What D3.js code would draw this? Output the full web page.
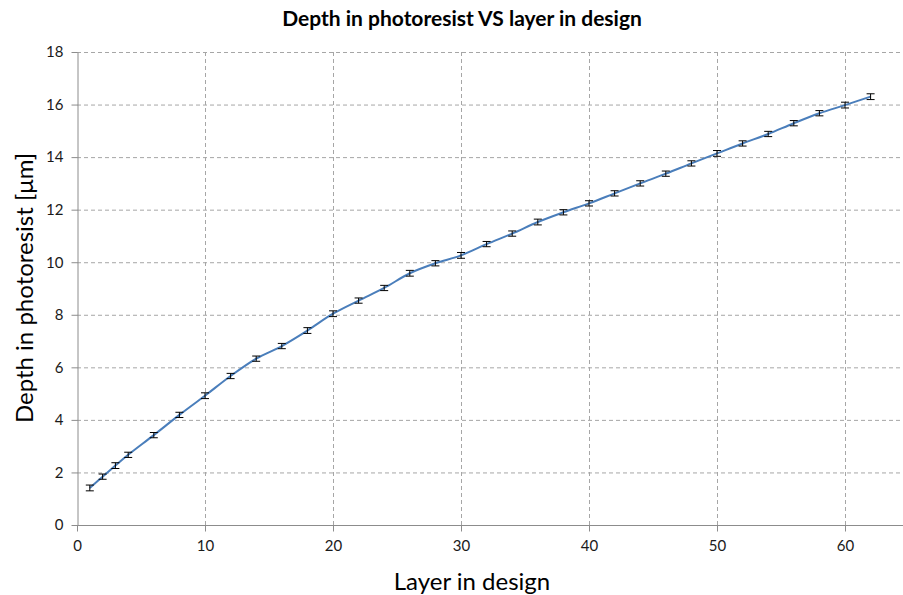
<!DOCTYPE html>
<html><head><meta charset="utf-8">
<script src="https://cdn.jsdelivr.net/npm/d3@7"></script>
<style>body{margin:0;background:#fff}svg{display:block}</style>
</head><body>
<svg id="c" width="903" height="595"></svg>
<script>
const layers = [1,2,3,4,6,8,10,12,14,16,18,20,22,24,26,28,30,32,34,36,38,40,42,44,46,48,50,52,54,56,58,60,62];
const depths = [1.41,1.84,2.26,2.67,3.42,4.19,4.92,5.67,6.33,6.81,7.40,8.04,8.54,9.02,9.58,9.96,10.26,10.69,11.09,11.53,11.90,12.24,12.62,13.00,13.37,13.76,14.14,14.52,14.88,15.29,15.67,15.98,16.30];
const errors = [0.11,0.10,0.11,0.10,0.10,0.10,0.11,0.10,0.10,0.10,0.11,0.11,0.10,0.10,0.11,0.10,0.11,0.10,0.10,0.11,0.10,0.10,0.10,0.10,0.10,0.10,0.11,0.10,0.10,0.10,0.10,0.11,0.11];
const xTicks = [0,10,20,30,40,50,60];
const yTicks = [0,2,4,6,8,10,12,14,16,18];
const title = "Depth in photoresist VS layer in design";
const xTitle = "Layer in design";
const yTitle = "Depth in photoresist [μm]";

const svg = d3.select("#c");
const L = 77, T = 52, B = 525, R = 903;
const x = d3.scaleLinear().domain([0, 60]).range([L, 845]);
const y = d3.scaleLinear().domain([0, 18]).range([B, T]);
const font = "Lato, 'Open Sans', sans-serif";

// grid
svg.append("g").selectAll("line.h").data(yTicks.filter(d => d > 0)).join("line")
  .attr("x1", L).attr("x2", R).attr("y1", d => y(d)+0.5).attr("y2", d => y(d)+0.5)
  .attr("stroke", "#a6a6a6").attr("stroke-dasharray", "4,3").attr("stroke-width", 1);
svg.append("g").selectAll("line.v").data(xTicks.filter(d => d > 0)).join("line")
  .attr("y1", T).attr("y2", B).attr("x1", d => x(d)+0.5).attr("x2", d => x(d)+0.5)
  .attr("stroke", "#a6a6a6").attr("stroke-dasharray", "4,3").attr("stroke-width", 1);

// axes
const xAxis = svg.append("g").attr("transform", `translate(0,${B+0.5})`)
  .call(d3.axisBottom(x).tickValues(xTicks).tickSize(6).tickPadding(9).tickSizeOuter(0));
xAxis.select(".domain").attr("d", `M${L},0H${R}`);
const yAxis = svg.append("g").attr("transform", `translate(${L+0.5},0)`)
  .call(d3.axisLeft(y).tickValues(yTicks).tickSize(6).tickPadding(8).tickSizeOuter(0));
[xAxis, yAxis].forEach(a => {
  a.select(".domain").attr("stroke", "#8c8c8c");
  a.selectAll(".tick line").attr("stroke", "#8c8c8c");
  a.selectAll("text").attr("font-family", font).attr("font-size", 15).attr("fill", "#1a1a1a");
});

// line
const pts = layers.map((l, i) => [l, depths[i], errors[i]]);
svg.append("path").datum(pts)
  .attr("d", d3.line().x(d => x(d[0])).y(d => y(d[1])).curve(d3.curveCatmullRom.alpha(0.5)))
  .attr("fill", "none").attr("stroke", "#4a7ebb").attr("stroke-width", 2);

// error bars
const eb = svg.append("g").attr("stroke", "#000").attr("stroke-width", 1);
eb.selectAll("path").data(pts).join("path")
  .attr("d", d => {
    const cx = x(d[0]), y1 = y(d[1]+d[2]), y2 = y(d[1]-d[2]);
    return `M${cx-4},${y1}H${cx+4}M${cx},${y1}V${y2}M${cx-4},${y2}H${cx+4}`;
  });

// titles
svg.append("text").attr("x", 462).attr("y", 26).attr("text-anchor", "middle")
  .attr("font-family", font).attr("font-weight", "bold").attr("font-size", 21).attr("fill", "#000").text(title);
svg.append("text").attr("x", 472).attr("y", 590).attr("text-anchor", "middle")
  .attr("font-family", font).attr("font-size", 24).attr("fill", "#000").text(xTitle);
svg.append("text").attr("transform", "translate(33,288) rotate(-90)").attr("text-anchor", "middle")
  .attr("font-family", font).attr("font-size", 24).attr("fill", "#000").text(yTitle);
</script>
</body></html>
